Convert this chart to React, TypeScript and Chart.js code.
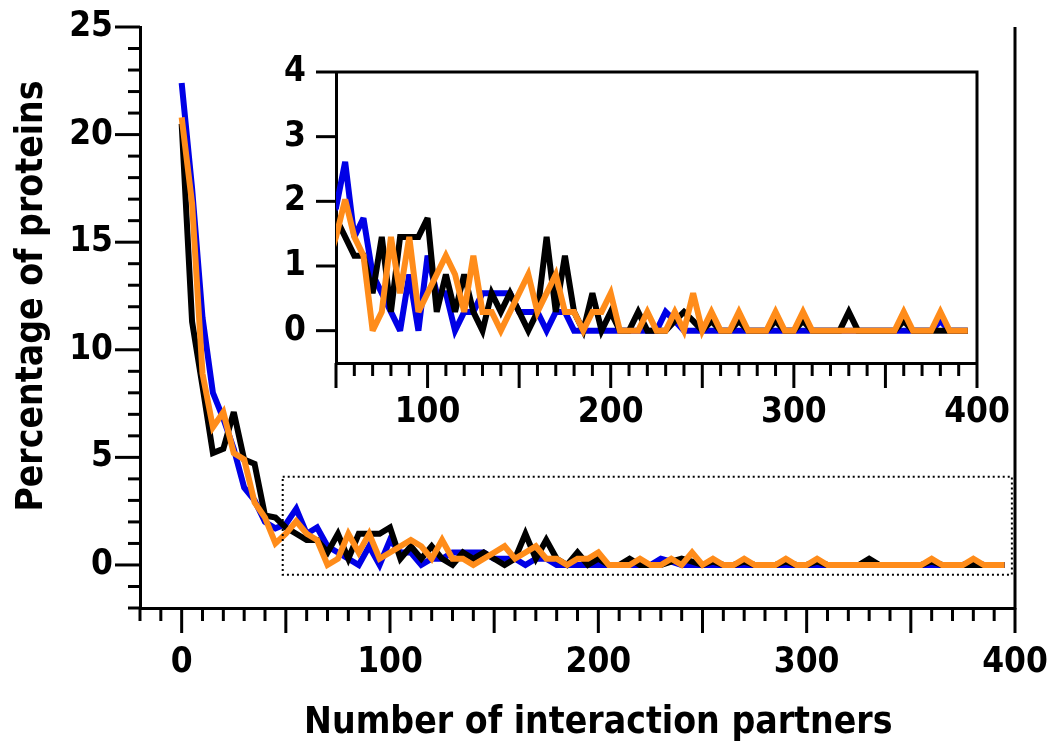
import React, { useEffect, useRef } from "react";
import { Chart, registerables } from "chart.js";

Chart.register(...registerables);

// ---------- data ----------
const partners = [
  0, 5, 10, 15, 20, 25, 30, 35, 40, 45,
  50, 55, 60, 65, 70, 75, 80, 85, 90, 95,
  100, 105, 110, 115, 120, 125, 130, 135, 140, 145,
  150, 155, 160, 165, 170, 175, 180, 185, 190, 195,
  200, 205, 210, 215, 220, 225, 230, 235, 240, 245,
  250, 255, 260, 265, 270, 275, 280, 285, 290, 295,
  300, 305, 310, 315, 320, 325, 330, 335, 340, 345,
  350, 355, 360, 365, 370, 375, 380, 385, 390, 395,
];

const seriesBlue = [
  22.4, 17.5, 11.5, 8.0, 6.8, 5.4, 3.6, 3.0, 2.0, 1.7,
  1.9, 2.61, 1.45, 1.74, 0.87, 0.58, 0.29, 0, 0.87, 0,
  1.16, 0.58, 0.58, 0, 0.29, 0.29, 0.58, 0.58, 0.58, 0.58,
  0.29, 0.29, 0.29, 0, 0.29, 0.29, 0, 0, 0, 0,
  0, 0, 0, 0, 0, 0, 0.29, 0.15, 0, 0,
  0, 0, 0, 0, 0, 0, 0, 0, 0, 0,
  0, 0, 0, 0, 0, 0, 0, 0, 0, 0,
  0, 0, 0, 0, 0, 0, 0.15, 0, 0, 0,
];

const seriesBlack = [
  20.5, 11.3, 8.3, 5.2, 5.4, 7.1, 4.9, 4.7, 2.3, 2.2,
  1.74, 1.45, 1.16, 1.16, 0.58, 1.45, 0.29, 1.45, 1.45, 1.45,
  1.74, 0.29, 0.87, 0.29, 0.87, 0.29, 0, 0.58, 0.29, 0.58,
  0.29, 0, 0.29, 1.45, 0.29, 1.16, 0.29, 0, 0.58, 0,
  0.29, 0, 0, 0.29, 0, 0, 0, 0.15, 0.29, 0.15,
  0, 0.15, 0, 0, 0.15, 0, 0, 0, 0.15, 0,
  0, 0.15, 0, 0, 0, 0, 0.29, 0, 0, 0,
  0, 0, 0.15, 0, 0, 0, 0, 0, 0, 0,
];

const seriesOrange = [
  20.8, 16.8, 8.9, 6.4, 7.1, 5.2, 4.9, 2.9, 2.2, 1.0,
  1.45, 2.03, 1.45, 1.16, 0, 0.29, 1.45, 0.58, 1.45, 0.29,
  0.58, 0.87, 1.16, 0.87, 0.29, 1.16, 0.29, 0.29, 0, 0.29,
  0.58, 0.87, 0.29, 0.58, 0.87, 0.29, 0.29, 0, 0.29, 0.29,
  0.58, 0, 0, 0, 0.29, 0, 0, 0.29, 0, 0.58,
  0, 0.29, 0, 0, 0.29, 0, 0, 0, 0.29, 0,
  0, 0.29, 0, 0, 0, 0, 0, 0, 0, 0,
  0, 0, 0.29, 0, 0, 0, 0.29, 0, 0, 0,
];

const mainXTickLabels = [0, 100, 200, 300, 400];
const mainYTickLabels = [0, 5, 10, 15, 20, 25];
const insetXTickLabels = [100, 200, 300, 400];
const insetYTickLabels = [0, 1, 2, 3, 4];

const xTitle = "Number of interaction partners";
const yTitle = "Percentage of proteins";

// ---------- styles ----------
const FONT = "'DejaVu Sans Condensed', 'DejaVu Sans', sans-serif";
const BLUE = "#0000e6";
const ORANGE = "#ff8c1a";
const BLACK = "#000000";

function makeDatasets(clip?: number) {
  const mk = (vals: number[], color: string, label: string) => ({
    label,
    data: partners.map((x, i) => ({ x, y: vals[i] })),
    borderColor: color,
    backgroundColor: color,
    borderWidth: 6,
    pointRadius: 0,
    pointHoverRadius: 0,
    tension: 0,
    fill: false,
    borderJoinStyle: "miter" as const,
    borderCapStyle: "butt" as const,
    ...(clip !== undefined ? { clip } : {}),
  });
  // first dataset is drawn on top
  return [
    mk(seriesOrange, ORANGE, "orange"),
    mk(seriesBlack, BLACK, "black"),
    mk(seriesBlue, BLUE, "blue"),
  ];
}

const tickFont = { family: FONT, size: 35, weight: "bold" as const };

const miterPlugin = {
  id: "miterLimit",
  beforeDatasetsDraw(chart: any) {
    chart.ctx.miterLimit = 3;
  },
};

const mainDecor = {
  id: "mainDecor",
  afterDraw(chart: any) {
    const { ctx, chartArea: ca, scales } = chart;
    const x = scales.x;
    const y = scales.y;
    ctx.save();
    ctx.strokeStyle = BLACK;
    ctx.lineWidth = 3;
    ctx.lineCap = "butt";
    // x tick marks
    for (let v = -20; v <= 400; v += 10) {
      const px = x.getPixelForValue(v);
      const len = v % 50 === 0 ? 25 : 13;
      ctx.beginPath();
      ctx.moveTo(px, ca.bottom);
      ctx.lineTo(px, ca.bottom + len);
      ctx.stroke();
    }
    // y tick marks
    for (let v = -2; v <= 25; v += 1) {
      const py = y.getPixelForValue(v);
      const len = v % 5 === 0 ? 25 : 12;
      ctx.beginPath();
      ctx.moveTo(ca.left, py);
      ctx.lineTo(ca.left - len, py);
      ctx.stroke();
    }
    // right spine
    ctx.beginPath();
    ctx.moveTo(ca.right, ca.top);
    ctx.lineTo(ca.right, ca.bottom + 1.5);
    ctx.stroke();
    // dotted zoom rectangle
    ctx.lineWidth = 2;
    ctx.setLineDash([2, 3]);
    const rx0 = x.getPixelForValue(48.5);
    const rx1 = x.getPixelForValue(398.5);
    const ry0 = y.getPixelForValue(4.1);
    const ry1 = y.getPixelForValue(-0.45);
    ctx.strokeRect(rx0, ry0, rx1 - rx0, ry1 - ry0);
    ctx.setLineDash([]);
    // axis titles
    ctx.fillStyle = BLACK;
    ctx.font = `bold 37px ${FONT}`;
    ctx.textAlign = "center";
    ctx.textBaseline = "alphabetic";
    const cx = (x.getPixelForValue(0) + x.getPixelForValue(400)) / 2;
    ctx.fillText(xTitle, cx, 733);
    const cy = (y.getPixelForValue(0) + y.getPixelForValue(25)) / 2;
    ctx.translate(42, cy);
    ctx.rotate(-Math.PI / 2);
    ctx.fillText(yTitle, 0, 0);
    ctx.restore();
  },
};

const insetDecor = {
  id: "insetDecor",
  afterDraw(chart: any) {
    const { ctx, chartArea: ca, scales } = chart;
    const x = scales.x;
    const y = scales.y;
    ctx.save();
    ctx.strokeStyle = BLACK;
    ctx.lineWidth = 3;
    for (let v = 50; v <= 400; v += 10) {
      const px = x.getPixelForValue(v);
      const len = v % 50 === 0 ? 25 : 13;
      ctx.beginPath();
      ctx.moveTo(px, ca.bottom);
      ctx.lineTo(px, ca.bottom + len);
      ctx.stroke();
    }
    for (const v of insetYTickLabels) {
      const py = y.getPixelForValue(v);
      ctx.beginPath();
      ctx.moveTo(ca.left, py);
      ctx.lineTo(ca.left - 20, py);
      ctx.stroke();
    }
    // top + right border
    ctx.beginPath();
    ctx.moveTo(ca.left, ca.top);
    ctx.lineTo(ca.right, ca.top);
    ctx.lineTo(ca.right, ca.bottom);
    ctx.stroke();
    ctx.restore();
  },
};

function axisCommon(labels: number[], size: { w?: number; h?: number }, padding: number) {
  return {
    type: "linear" as const,
    afterBuildTicks: (s: any) => {
      s.ticks = labels.map((v) => ({ value: v }));
    },
    afterFit: (s: any) => {
      if (size.w !== undefined) s.width = size.w;
      if (size.h !== undefined) s.height = size.h;
      s.paddingLeft = 0;
      s.paddingRight = 0;
      s.paddingTop = 0;
      s.paddingBottom = 0;
    },
    grid: { display: false, drawTicks: false },
    border: { display: true, width: 3, color: BLACK },
    ticks: {
      font: tickFont,
      color: BLACK,
      padding,
      maxRotation: 0,
      autoSkip: false,
    },
  };
}

export default function App() {
  const mainRef = useRef<HTMLCanvasElement>(null);
  const insetRef = useRef<HTMLCanvasElement>(null);

  useEffect(() => {
    const common = {
      animation: false as const,
      responsive: false,
      devicePixelRatio: 1,
      events: [] as any[],
      plugins: {
        legend: { display: false },
        tooltip: { enabled: false },
        title: { display: false },
      },
    };

    const main = new Chart(mainRef.current as HTMLCanvasElement, {
      type: "line",
      data: { datasets: makeDatasets() as any },
      options: {
        ...common,
        layout: { padding: { top: 27, right: 37, left: 0, bottom: 0 } },
        scales: {
          x: {
            ...axisCommon(mainXTickLabels, { h: 133 }, 34),
            min: -20,
            max: 400,
          },
          y: {
            ...axisCommon(mainYTickLabels, { w: 140 }, 27),
            min: -2,
            max: 25,
          },
        },
      } as any,
      plugins: [miterPlugin, mainDecor],
    });

    const inset = new Chart(insetRef.current as HTMLCanvasElement, {
      type: "line",
      data: { datasets: makeDatasets(0) as any },
      options: {
        ...common,
        layout: { padding: { top: 32, right: 63, left: 0, bottom: 0 } },
        scales: {
          x: {
            ...axisCommon(insetXTickLabels, { h: 87 }, 29),
            min: 50,
            max: 400,
          },
          y: {
            ...axisCommon(insetYTickLabels, { w: 76 }, 30),
            min: -0.5,
            max: 4,
          },
        },
      } as any,
      plugins: [miterPlugin, insetDecor],
    });

    return () => {
      main.destroy();
      inset.destroy();
    };
  }, []);

  return (
    <div
      style={{
        position: "absolute",
        left: 0,
        top: 0,
        width: 1052,
        height: 741,
        background: "#ffffff",
        overflow: "hidden",
      }}
    >
      <canvas
        ref={mainRef}
        width={1052}
        height={741}
        style={{ position: "absolute", left: 0, top: 0, width: 1052, height: 741 }}
      />
      <canvas
        ref={insetRef}
        width={780}
        height={410}
        style={{ position: "absolute", left: 260, top: 40, width: 780, height: 410 }}
      />
    </div>
  );
}
